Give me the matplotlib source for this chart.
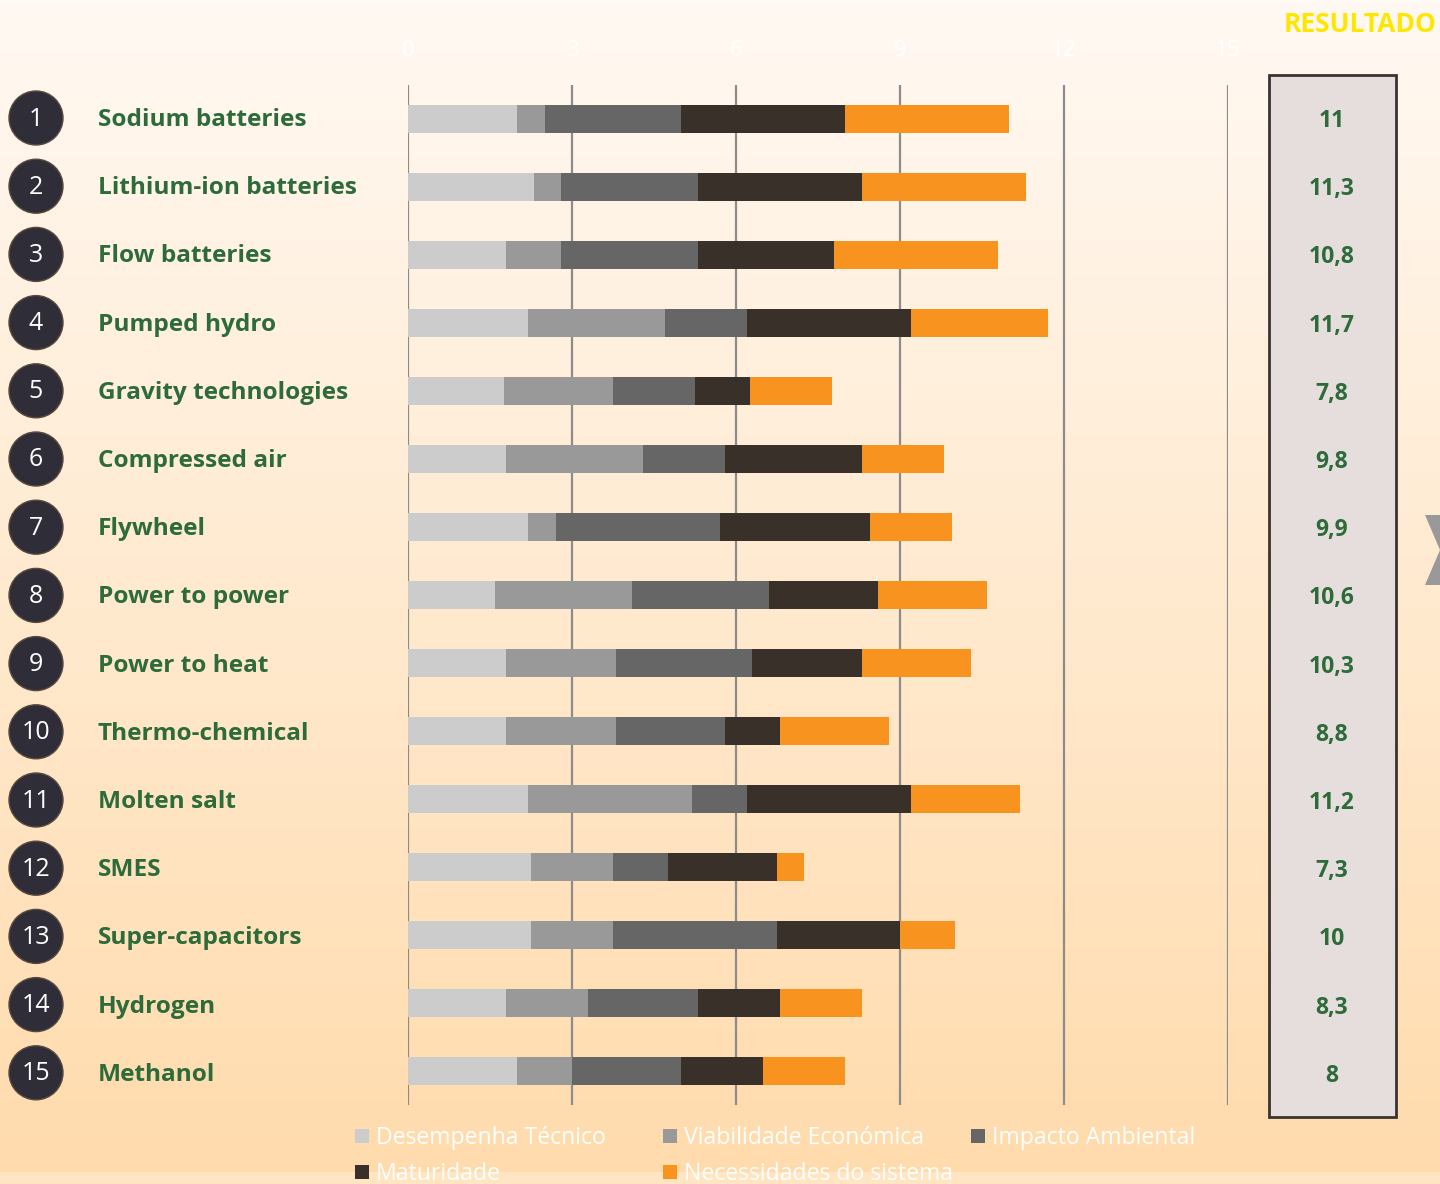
import matplotlib.pyplot as plt
import numpy as np
from matplotlib.patches import Circle, Rectangle, Polygon

technologies = ["Sodium batteries", "Lithium-ion batteries", "Flow batteries", "Pumped hydro",
                "Gravity technologies", "Compressed air", "Flywheel", "Power to power",
                "Power to heat", "Thermo-chemical", "Molten salt", "SMES",
                "Super-capacitors", "Hydrogen", "Methanol"]
desempenho = [2.0, 2.3, 1.8, 2.2, 1.75, 1.8, 2.2, 1.6, 1.8, 1.8, 2.2, 2.25, 2.25, 1.8, 2.0]
viabilidade = [0.5, 0.5, 1.0, 2.5, 2.0, 2.5, 0.5, 2.5, 2.0, 2.0, 3.0, 1.5, 1.5, 1.5, 1.0]
impacto = [2.5, 2.5, 2.5, 1.5, 1.5, 1.5, 3.0, 2.5, 2.5, 2.0, 1.0, 1.0, 3.0, 2.0, 2.0]
maturidade = [3.0, 3.0, 2.5, 3.0, 1.0, 2.5, 2.75, 2.0, 2.0, 1.0, 3.0, 2.0, 2.25, 1.5, 1.5]
necessidades = [3.0, 3.0, 3.0, 2.5, 1.5, 1.5, 1.5, 2.0, 2.0, 2.0, 2.0, 0.5, 1.0, 1.5, 1.5]
resultado = ["11", "11,3", "10,8", "11,7", "7,8", "9,8", "9,9", "10,6", "10,3", "8,8",
             "11,2", "7,3", "10", "8,3", "8"]
series_names = ["Desempenha Técnico", "Viabilidade Económica", "Impacto Ambiental",
                "Maturidade", "Necessidades do sistema"]
colors = ["#CCCCCC", "#999999", "#666666", "#3A302A", "#F7931E"]
ticks = [0, 3, 6, 9, 12, 15]

plt.rcParams['font.family'] = ['Open Sans', 'DejaVu Sans']
W, H = 1440, 1184
fig = plt.figure(figsize=(W / 100, H / 100), dpi=100)

# background gradient
bg = fig.add_axes([0, 0, 1, 1])
grad = np.linspace(0, 1, 256).reshape(-1, 1)
top = np.array([255, 249, 243]) / 255
bot = np.array([255, 219, 172]) / 255
img = top + (bot - top) * grad[..., None]
img = img.reshape(256, 1, 3)
bg.imshow(img, aspect='auto', extent=[0, 1, 0, 1], origin='upper')
bg.add_patch(Rectangle((0, 0), 1, 12 / H, color="#FFE5C2", lw=0))
bg.set_xlim(0, 1)
bg.set_ylim(0, 1)
bg.axis('off')

ax = fig.add_axes([408 / W, 1 - 1105 / H, 820 / W, 1020 / H])
ax.patch.set_alpha(0)
y = np.arange(len(technologies))
left = np.zeros(len(technologies))
for vals, name, c in zip([desempenho, viabilidade, impacto, maturidade, necessidades],
                         series_names, colors):
    ax.barh(y, vals, left=left, height=0.4, color=c, label=name, zorder=3)
    left += np.array(vals)

ax.set_xlim(0, 15)
ax.set_ylim(len(technologies) - 0.5, -0.5)
ax.set_xticks(ticks)
ax.xaxis.tick_top()
ax.tick_params(axis='x', length=0, labelcolor='white', labelsize=16, pad=17)
ax.set_yticks([])
ax.grid(axis='x', color='#8C8C8C', lw=1.6, zorder=1)
for s in ax.spines.values():
    s.set_visible(False)

# circles and labels
ov = fig.add_axes([0, 0, 1, 1], zorder=5)
ov.set_xlim(0, W)
ov.set_ylim(H, 0)
ov.axis('off')
for i, name in enumerate(technologies):
    cy = 118 + i * 68.2
    ov.add_patch(Circle((36, cy), 27, facecolor="#2E2D38", edgecolor="#5A4A3E", lw=1))
    ov.text(36, cy + 1, str(i + 1), color='white', fontsize=18, ha='center', va='center')
    ov.text(98, cy + 2, name, color="#2E6B3A", fontsize=17.6, fontweight='bold', ha='left', va='center')
    ov.text(1332, cy + 3, resultado[i], color="#2E6B3A", fontsize=16.5, fontweight='bold',
            ha='center', va='center')

ov.add_patch(Rectangle((1269, 75), 127, 1042, facecolor="#E6DEDC", edgecolor="#3A3330", lw=2,
                       zorder=0))
ov.text(1360, 25, "RESULTADO", color="#FFE600", fontsize=19, fontweight='bold',
        ha='center', va='center')
ov.add_patch(Polygon([[1425, 515], [1440, 515], [1440, 585], [1425, 585], [1440, 550]],
                     closed=True, facecolor="#999999", lw=0))

# legend
leg_pos = [(355, 1136), (663, 1136), (971, 1136), (355, 1172), (663, 1172)]
for (lx, ly), name, c in zip(leg_pos, series_names, colors):
    ov.add_patch(Rectangle((lx, ly - 7), 14, 14, facecolor=c, lw=0))
    ov.text(lx + 21, ly + 2, name, color='white', fontsize=16.6, ha='left', va='center')

fig.savefig("out.png", dpi=100)
